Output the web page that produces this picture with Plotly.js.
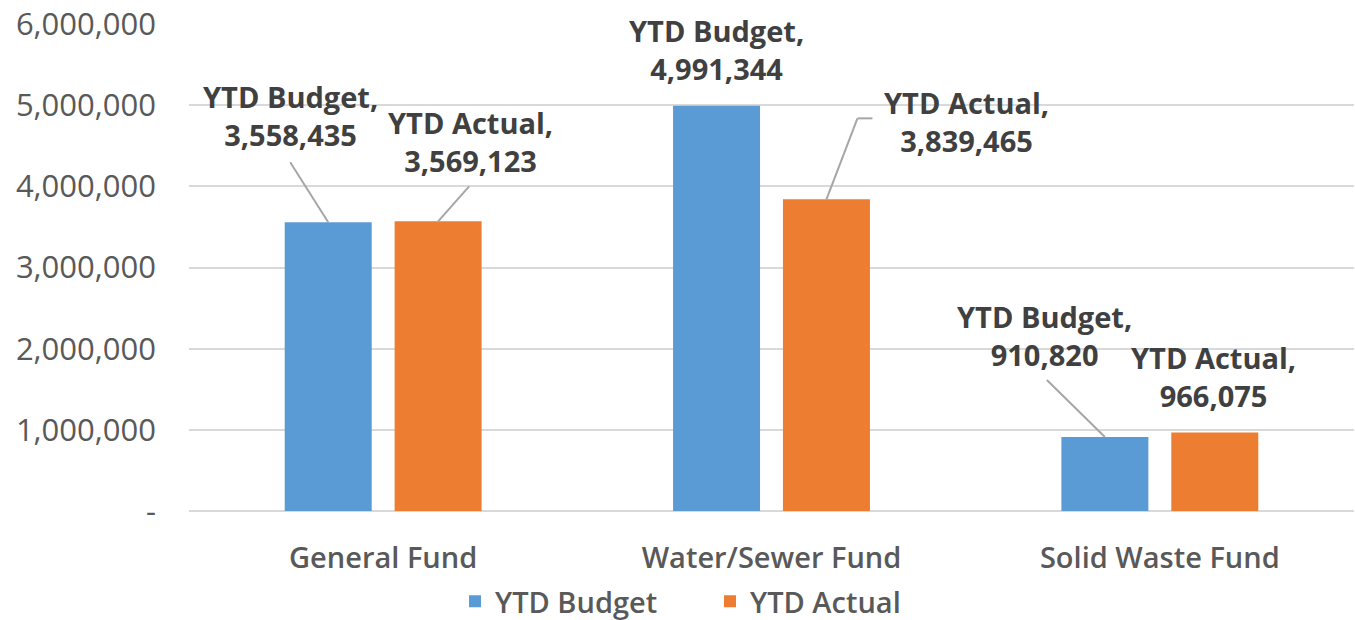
<!DOCTYPE html>
<html>
<head>
<meta charset="utf-8">
<script src="https://cdn.plot.ly/plotly-3.0.1.min.js"></script>
<style>html,body{margin:0;padding:0;background:#fff;}#chart{width:1355px;height:620px;}</style>
</head>
<body>
<div id="chart"></div>
<script>
const categories = ["General Fund", "Water/Sewer Fund", "Solid Waste Fund"];
const seriesNames = ["YTD Budget", "YTD Actual"];
const ytdBudget = [3558435, 4991344, 910820];
const ytdActual = [3569123, 3839465, 966075];
const yTickVals = [0, 1000000, 2000000, 3000000, 4000000, 5000000, 6000000];
const yTickText = ["-", "1,000,000", "2,000,000", "3,000,000", "4,000,000", "5,000,000", "6,000,000"];

const colors = ["#5B9BD5", "#ED7D31"];
const fontFam = "'Open Sans', sans-serif";
const barWidth = 0.224;
const groupHalf = 0.2535;
const barOffsets = [-groupHalf, groupHalf - barWidth];
const centers = barOffsets.map(o => o + barWidth / 2);

// label placement (pixel offsets from bar top) [series][category]
const labelShift = [
  [{dx: -38, dy: 107, lead: [[0,0],[-38,60]]}, {dx: 0, dy: 56, lead: null}, {dx: -60, dy: 102, lead: [[0,0],[-58,57]]}],
  [{dx: 32, dy: 80, lead: [[0,0],[31,35]]}, {dx: 140, dy: 78, lead: [[0,0],[31,81],[46,81]]}, {dx: -1, dy: 56, lead: null}]
];

const fmt = v => v.toLocaleString("en-US");
const seriesVals = [ytdBudget, ytdActual];

const traces = seriesVals.map((vals, s) => ({
  type: "bar",
  name: seriesNames[s],
  x: categories,
  y: vals,
  width: barWidth,
  offset: barOffsets[s],
  marker: {color: colors[s]},
  hoverinfo: "none"
}));

const annotations = [];
const shapes = [];
seriesVals.forEach((vals, s) => {
  vals.forEach((v, i) => {
    const ls = labelShift[s][i];
    const xpos = i + centers[s];
    annotations.push({
      x: xpos, y: v, xref: "x", yref: "y",
      text: seriesNames[s] + ",<br>" + fmt(v),
      showarrow: false,
      xshift: ls.dx, yshift: ls.dy,
      xanchor: "center", yanchor: "middle",
      font: {family: fontFam, size: 29, color: "#404040", weight: 700}
    });
    if (ls.lead) {
      for (let k = 0; k < ls.lead.length - 1; k++) {
        shapes.push({
          type: "line", xref: "x", yref: "y",
          xsizemode: "pixel", ysizemode: "pixel",
          xanchor: xpos, yanchor: v,
          x0: ls.lead[k][0], y0: ls.lead[k][1],
          x1: ls.lead[k+1][0], y1: ls.lead[k+1][1],
          line: {color: "#A6A6A6", width: 2}
        });
      }
    }
  });
});

const layout = {
  width: 1355, height: 620,
  margin: {l: 189, r: 1, t: 24, b: 109},
  paper_bgcolor: "#fff", plot_bgcolor: "#fff",
  barmode: "group",
  showlegend: true,
  legend: {
    orientation: "h", xref: "container", yref: "container",
    x: 0.524, xanchor: "center", y: 0.03, yanchor: "middle",
    font: {family: fontFam, size: 29, color: "#595959", weight: 600},
    itemwidth: 30, entrywidth: 210, entrywidthmode: "pixels", tracegroupgap: 0
  },
  xaxis: {
    type: "category",
    showgrid: false, zeroline: false, showline: false,
    ticks: "", ticklabelstandoff: 27,
    tickfont: {family: fontFam, size: 29, color: "#595959", weight: 600},
    range: [-0.5, 2.5]
  },
  yaxis: {
    range: [0, 6000000],
    tickvals: yTickVals, ticktext: yTickText,
    showgrid: true, gridcolor: "#D9D9D9", gridwidth: 2,
    zeroline: true, zerolinecolor: "#D9D9D9", zerolinewidth: 2,
    showline: false, ticks: "",
    ticklabelstandoff: 32,
    tickfont: {family: fontFam, size: 31, color: "#595959", weight: 500}
  },
  annotations: annotations,
  shapes: shapes,
  font: {family: fontFam}
};

Plotly.newPlot("chart", traces, layout, {displayModeBar: false, staticPlot: true});
</script>
</body>
</html>
